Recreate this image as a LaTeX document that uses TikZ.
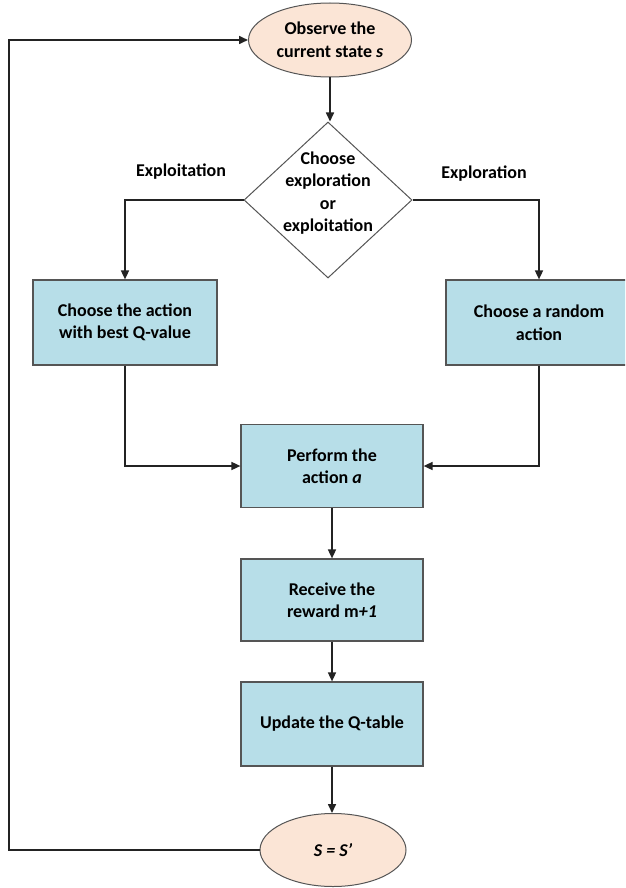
\documentclass[tikz,border=0pt]{standalone}
\usepackage{fontspec}
\setmainfont{Carlito}
\usetikzlibrary{shapes.geometric,arrows.meta}
\definecolor{boxblue}{RGB}{183,222,232}
\definecolor{peach}{RGB}{251,229,214}
\definecolor{edgegray}{RGB}{85,85,85}
\definecolor{linedark}{RGB}{35,35,35}
\tikzset{
  txt/.style={font=\fontsize{18}{22.5}\selectfont\bfseries, text=black, align=center},
  stepbox/.style={txt, rectangle, draw=edgegray, line width=1.2pt, fill=boxblue, inner sep=0pt},
  oval/.style={txt, ellipse, draw=edgegray, line width=1pt, fill=peach, inner sep=0pt},
  decide/.style={diamond, draw=edgegray, line width=1pt, fill=white, inner sep=0pt},
  arr/.style={draw=linedark, line width=1.6pt, -{Triangle[length=9pt,width=8pt]}},
  lbl/.style={txt}
}
\begin{document}
\begin{tikzpicture}[x=1pt,y=-1pt]
\useasboundingbox (0,0) rectangle (625,888);
\clip (0,0) rectangle (625,888);
\fill[white] (0,0) rectangle (625,888);

\node[oval, minimum width=163pt, minimum height=74pt] (obs) at (330,40) {Observe the\\current state \textit{s}};
\node[decide, minimum width=168pt, minimum height=156pt] (dec) at (328,200) {};
\node[txt] (dectxt) at (328,193) {Choose\\exploration\\or\\exploitation};

\node[lbl] (lexploit) at (181,172) {Exploitation};
\node[lbl] (lexplore) at (484,174) {Exploration};

\node[stepbox, minimum width=184pt, minimum height=85pt] (exploit) at (125,322.5) {Choose the action\\with best Q-value};
\node[stepbox, minimum width=186pt, minimum height=85pt] (explore) at (539,322.5) {Choose a random\\action};

\node[stepbox, minimum width=182pt, minimum height=83pt] (perf) at (332,466) {Perform the\\action \textit{a}};
\node[stepbox, minimum width=182pt, minimum height=82pt] (recv) at (332,600) {Receive the\\reward m\textit{+1}};
\node[stepbox, minimum width=182pt, minimum height=84pt] (upd) at (332,724) {Update the Q-table};
\node[oval, minimum width=146pt, minimum height=73pt] (fin) at (333,850) {\textit{S = S’}};

\coordinate (fbk) at (9,445);

\draw[arr] (obs.south) -- (obs.south |- dec.north);
\draw[arr] (dec.west) -| (exploit.north);
\draw[arr] (dec.east) -| (explore.north);
\draw[arr] (exploit.south) |- (perf.west);
\draw[arr] (explore.south) |- (perf.east);
\draw[arr] (perf.south) -- (recv.north);
\draw[arr] (recv.south) -- (upd.north);
\draw[arr] (upd.south) -- (upd.south |- fin.north);
\draw[arr] (fin.west) -| (fbk) |- (obs.west);
\end{tikzpicture}
\end{document}
